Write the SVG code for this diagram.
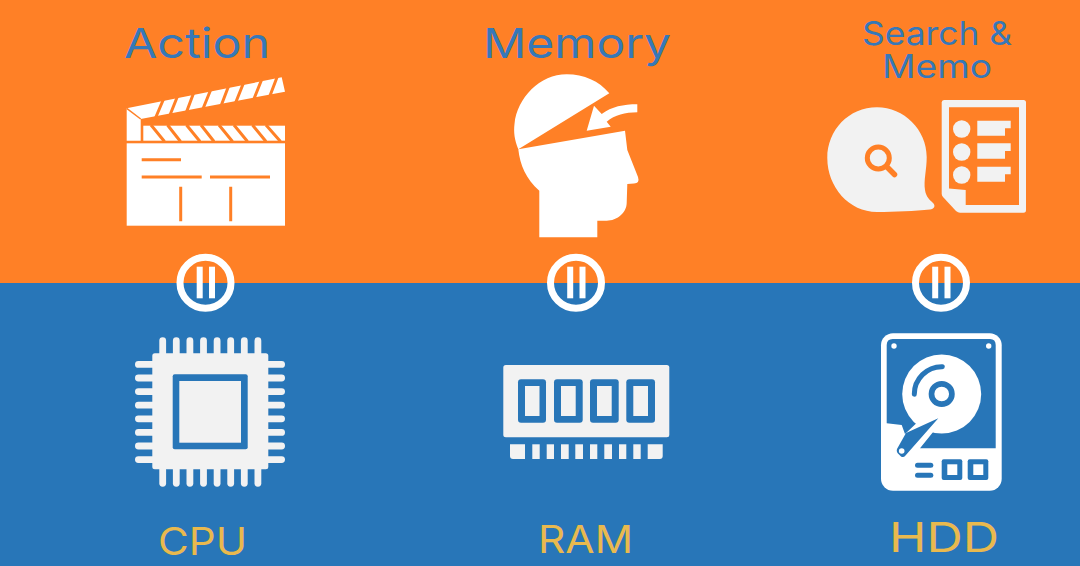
<svg xmlns="http://www.w3.org/2000/svg" width="1080" height="566" viewBox="0 0 1080 566">
<style>
.t{font-family:Inter,"Open Sans",sans-serif;text-anchor:start}
.b{fill:#3678b8}.y{fill:#e9b94e}
.w{fill:#fff}.l{fill:#f2f2f2}.o{fill:#ff8026}.bl{fill:#2876b8}
.ring{fill:none;stroke:#fff;stroke-width:7}
.ol{stroke:#ff8026;stroke-width:3;fill:none}
.pin{fill:#f2f2f2}
</style>
<rect width="1080" height="283" class="o"/>
<rect y="283" width="1080" height="283" class="bl"/>
<g id="action">
<text class="t b" x="124" y="58" font-size="41" textLength="146" lengthAdjust="spacingAndGlyphs">Action</text>
<path class="w" d="M126.700 108.300L281.700 77.300L285 91.700L140.700 119L140.700 140.700L126.700 140.700Z"/>
<path d="M126.700 108.300L140.700 119" stroke="#ff8026" stroke-width="1.500"/>
<path d="M164 98L155.500 118M178 95L170 115M194 92L186.500 112M211 89L202.500 110M229 85L221 106M243.500 83L235.500 103M261.500 80L253.500 100M277.500 76L269.500 97" stroke="#ff8026" stroke-width="3"/>
<rect class="w" x="143.300" y="125.700" width="141.700" height="15"/>
<path d="M151 125L164.500 141.500M167.500 125L180.500 141.500M186.500 125L200 141.500M201 125L214 141.500M219 125L232.500 141.500M234 125L247.500 141.500M252.500 125L266 141.500M266 125L280.500 141.500" stroke="#ff8026" stroke-width="3"/>
<rect class="w" x="126.700" y="143.300" width="158.300" height="82.400"/>
<path class="ol" d="M141.700 159.700H181M141.700 177H201.700M210 177H270M180.700 186.700V221.300M230.700 186.700V221.300"/>
</g>
<g id="memory">
<text class="t b" x="483" y="58" font-size="41" textLength="188" lengthAdjust="spacingAndGlyphs">Memory</text>
<path class="w" d="M518.300 149.300C514.500 140 513.500 132 514.500 124C517 98 540 74.300 566.700 74.300C584 74.300 599 81 609.300 93.300Z"/>
<path class="w" d="M518.300 149.300L625 130.700L627.300 150L638 177Q640 183.300 634 183.500L627.300 184L626.700 203C626.500 213 617 220.700 606.700 220.700L597.300 220.700V237.300H539.300V190.700C526 179 520 165 518.300 149.300Z"/>
<path class="w" d="M586.700 130.700L594 105.700L601.700 114C611.700 106.700 623.300 104.300 637.300 104.300V112.300C625 112.300 615 115 606.700 121.700L610.700 126.700Z"/>
</g>
<g id="search">
<text class="t b" x="862" y="45" font-size="32" textLength="150" lengthAdjust="spacingAndGlyphs">Search &amp;</text>
<text class="t b" x="882" y="78" font-size="32" textLength="110" lengthAdjust="spacingAndGlyphs">Memo</text>
<path class="l" d="M877 107.300C904 107.300 926.700 130 926.700 157C926.700 170 923.500 180 925 190C926 197 930 200 933 203C936 206 934 209 930 209.500C915 211 895 212 877 212C849 212 827.300 187 827.300 158C827.300 130 849 107.300 877 107.300Z"/>
<circle cx="878.300" cy="158" r="11" fill="none" stroke="#ff8026" stroke-width="5"/>
<path d="M887.300 167.300L894.500 174.500" stroke="#ff8026" stroke-width="5.500" stroke-linecap="round"/>
<path class="l" d="M944 100H1023.500Q1026 100 1026 102.500V210Q1026 212.700 1023.500 212.700H960Q958 212.700 956 211L943 197Q941.700 195.500 941.700 193.500V102.500Q941.700 100 944 100Z"/>
<path class="o" d="M949 107.300H1019V205H965.700V190L949 188.500Z"/>
<g class="l"><circle cx="961.700" cy="129" r="8.700"/><circle cx="961.700" cy="152" r="8.700"/><circle cx="961.700" cy="175" r="8.700"/>
<path d="M977.300 120.700H1010.700V128.300H1005V135.700H977.300Z"/><path d="M977.300 143.300H1010.700V151H1005V158.700H977.300Z"/><path d="M977.300 166.700H1010.700V174.300H1005V181.700H977.300Z"/></g>
</g>
<g id="equals">
<g id="eq1"><circle class="ring" cx="205.500" cy="282.700" r="25.500"/><rect class="w" x="196.700" y="266.700" width="6" height="31.600"/><rect class="w" x="209" y="266.700" width="6" height="31.600"/></g>
<g id="eq2"><circle class="ring" cx="576" cy="282.700" r="25.500"/><rect class="w" x="567.200" y="266.700" width="6" height="31.600"/><rect class="w" x="579.500" y="266.700" width="6" height="31.600"/></g>
<g id="eq3"><circle class="ring" cx="941" cy="282.700" r="25.500"/><rect class="w" x="932.200" y="266.700" width="6" height="31.600"/><rect class="w" x="944.500" y="266.700" width="6" height="31.600"/></g>
</g>
<g id="cpu">
<text class="t y" x="158" y="555" font-size="38" textLength="89" lengthAdjust="spacingAndGlyphs">CPU</text>
<g class="pin">
<rect x="159.300" y="337.300" width="6.800" height="20" rx="3.400"/><rect x="172.900" y="337.300" width="6.800" height="20" rx="3.400"/><rect x="186.500" y="337.300" width="6.800" height="20" rx="3.400"/><rect x="200.100" y="337.300" width="6.800" height="20" rx="3.400"/><rect x="213.700" y="337.300" width="6.800" height="20" rx="3.400"/><rect x="227.300" y="337.300" width="6.800" height="20" rx="3.400"/><rect x="240.900" y="337.300" width="6.800" height="20" rx="3.400"/><rect x="254.500" y="337.300" width="6.800" height="20" rx="3.400"/>
<rect x="159.300" y="466" width="6.800" height="20.700" rx="3.400"/><rect x="172.900" y="466" width="6.800" height="20.700" rx="3.400"/><rect x="186.500" y="466" width="6.800" height="20.700" rx="3.400"/><rect x="200.100" y="466" width="6.800" height="20.700" rx="3.400"/><rect x="213.700" y="466" width="6.800" height="20.700" rx="3.400"/><rect x="227.300" y="466" width="6.800" height="20.700" rx="3.400"/><rect x="240.900" y="466" width="6.800" height="20.700" rx="3.400"/><rect x="254.500" y="466" width="6.800" height="20.700" rx="3.400"/>
<rect x="135" y="361" width="21" height="6.800" rx="3.400"/><rect x="135" y="374.600" width="21" height="6.800" rx="3.400"/><rect x="135" y="388.200" width="21" height="6.800" rx="3.400"/><rect x="135" y="401.800" width="21" height="6.800" rx="3.400"/><rect x="135" y="415.400" width="21" height="6.800" rx="3.400"/><rect x="135" y="429" width="21" height="6.800" rx="3.400"/><rect x="135" y="442.600" width="21" height="6.800" rx="3.400"/><rect x="135" y="456.200" width="21" height="6.800" rx="3.400"/>
<rect x="264" y="361" width="21" height="6.800" rx="3.400"/><rect x="264" y="374.600" width="21" height="6.800" rx="3.400"/><rect x="264" y="388.200" width="21" height="6.800" rx="3.400"/><rect x="264" y="401.800" width="21" height="6.800" rx="3.400"/><rect x="264" y="415.400" width="21" height="6.800" rx="3.400"/><rect x="264" y="429" width="21" height="6.800" rx="3.400"/><rect x="264" y="442.600" width="21" height="6.800" rx="3.400"/><rect x="264" y="456.200" width="21" height="6.800" rx="3.400"/>
<rect x="152.300" y="353.300" width="116" height="116" rx="2.500"/></g>
<rect class="bl" x="172.700" y="374.300" width="75" height="75" rx="2"/>
<rect class="l" x="179.300" y="381" width="61.700" height="61.700"/>
</g>
<g id="ram">
<text class="t y" x="538" y="553" font-size="38" textLength="95" lengthAdjust="spacingAndGlyphs">RAM</text>
<rect class="l" x="503.300" y="365" width="166" height="72.300" rx="2.500"/>
<rect class="bl" x="518" y="379.300" width="28" height="43.400" rx="3"/><rect class="bl" x="554" y="379.300" width="28.700" height="43.400" rx="3"/><rect class="bl" x="590" y="379.300" width="28.700" height="43.400" rx="3"/><rect class="bl" x="626.300" y="379.300" width="28.700" height="43.400" rx="3"/>
<rect class="l" x="525" y="386" width="14.500" height="30"/><rect class="l" x="561" y="386" width="14.700" height="30"/><rect class="l" x="597" y="386" width="14.700" height="30"/><rect class="l" x="633.300" y="386" width="14.700" height="30"/>
<g class="l">
<path d="M510 444.300H525V459H513Q510 459 510 456Z"/>
<rect x="532.300" y="444.300" width="7.400" height="14.700"/><rect x="546.700" y="444.300" width="7.300" height="14.700"/><rect x="561" y="444.300" width="7.700" height="14.700"/><rect x="575.300" y="444.300" width="7.700" height="14.700"/><rect x="590" y="444.300" width="7.300" height="14.700"/><rect x="604.300" y="444.300" width="7.700" height="14.700"/><rect x="619" y="444.300" width="7.300" height="14.700"/><rect x="633.300" y="444.300" width="7.400" height="14.700"/>
<path d="M647.700 444.300H662.700V456Q662.700 459 659.700 459H647.700Z"/></g>
</g>
<g id="hdd">
<text class="t y" x="889" y="552" font-size="41" textLength="110" lengthAdjust="spacingAndGlyphs">HDD</text>
<rect class="w" x="881" y="333.300" width="120.700" height="157.400" rx="12"/>
<path class="bl" d="M892.700 339H990Q995.700 339 995.700 345V448.300H920L933.300 431.700L941 400L905 434L901.700 425L886.700 423.300V345Q886.700 339 892.700 339Z"/>
<circle class="w" cx="894" cy="346" r="2.700"/><circle class="w" cx="988.700" cy="346" r="2.700"/>
<circle class="w" cx="941.700" cy="394" r="39.500"/>
<circle cx="941.700" cy="394" r="10.200" fill="#fff" stroke="#2876b8" stroke-width="5.700"/>
<path d="M914.300 394.300A27.500 27.500 0 0 1 942.300 366.700" fill="none" stroke="#2876b8" stroke-width="5" stroke-linecap="round"/>
<path class="bl" d="M938.300 418.300L906 433L897 449Q896 452 899 454.500L901 456.500Q903.500 458 905.500 455.500Z"/>
<circle class="w" cx="901.700" cy="451" r="2.800"/>
<g class="bl"><rect x="915" y="462.700" width="18.300" height="5" rx="2.500"/><rect x="915" y="472.700" width="18.300" height="5" rx="2.500"/>
<rect x="941.700" y="459.300" width="20.600" height="20.700" rx="2"/><rect x="967.700" y="459.300" width="20.600" height="20.700" rx="2"/></g>
<rect class="w" x="947.300" y="464.300" width="10" height="10.700"/><rect class="w" x="973.300" y="464.300" width="10" height="10.700"/>
</g>
</svg>
